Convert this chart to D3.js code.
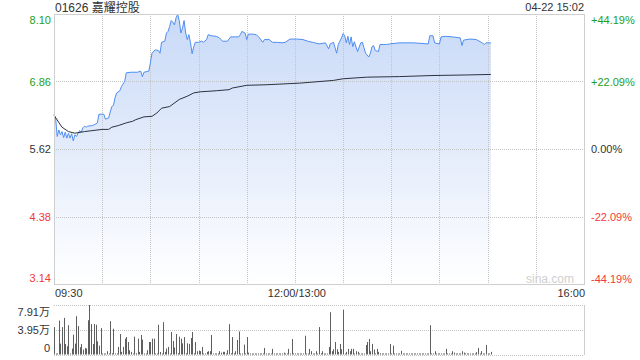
<!DOCTYPE html>
<html>
<head>
<meta charset="utf-8">
<script src="https://cdn.jsdelivr.net/npm/d3@7"></script>
<style>
  body { margin: 0; background: #fff; }
  text { font-family: Arial, "Liberation Sans", "Noto Sans CJK SC", sans-serif; font-size: 11px; }
</style>
</head>
<body>
<div id="viz"></div>
<script>
// chart data
var title = "01626 嘉耀控股",
    stamp = "04-22 15:02";

var prevClose = 5.62;
var priceTicks = [8.10, 6.86, 5.62, 4.38, 3.14];
var pctTicks = ["+44.19%", "+22.09%", "0.00%", "-22.09%", "-44.19%"];
var timeTicks = [[0, "09:30"], [150, "12:00/13:00"], [330, "16:00"]];
var volTicks = [[7.91, "7.91万"], [3.95, "3.95万"], [0, "0"]];

// [trading minute, price]
var pricePts = [
  [0,6.25],[1,6.19],[2,5.85],[3,5.97],[4,5.88],[5,5.94],[6,5.83],[7,5.93],[8,5.82],[9,5.91],
  [10,5.82],[11,5.90],[12,5.77],[13,5.88],[14,5.85],[15,5.91],[16,5.96],[17,5.93],[18,6.01],[19,6.04],
  [20,6.02],[21,6.04],[24,6.05],[26,6.08],[27,6.10],[28,6.26],[31,6.26],[32,6.17],[34,6.19],[36,6.40],
  [37,6.42],[38,6.56],[39,6.65],[41,6.69],[42,6.77],[44,6.86],[45,7.02],[48,7.03],[52,7.03],[54,7.05],
  [55,6.95],[56,7.03],[59,7.05],[60,7.20],[61,7.38],[63,7.44],[65,7.43],[66,7.38],[67,7.58],[69,7.60],
  [70,7.75],[71,7.78],[72,7.87],[73,7.98],[74,7.95],[75,7.90],[76,8.03],[77,8.09],[78,7.98],[79,7.75],
  [80,7.84],[81,7.98],[82,7.75],[83,7.63],[84,7.72],[85,7.57],[86,7.37],[87,7.50],[88,7.58],[90,7.58],
  [92,7.60],[93,7.58],[95,7.63],[96,7.72],[98,7.70],[101,7.69],[103,7.66],[105,7.60],[108,7.60],[110,7.68],
  [113,7.68],[115,7.68],[116,7.72],[117,7.78],[119,7.75],[120,7.63],[121,7.73],[124,7.73],[126,7.72],[128,7.66],
  [130,7.58],[131,7.63],[134,7.63],[136,7.58],[139,7.58],[142,7.57],[144,7.58],[147,7.64],[151,7.64],[155,7.63],
  [158,7.60],[161,7.58],[165,7.55],[169,7.57],[171,7.46],[172,7.55],[174,7.58],[176,7.38],[177,7.54],[179,7.66],
  [180,7.74],[181,7.70],[182,7.57],[183,7.69],[184,7.54],[185,7.68],[186,7.50],[187,7.59],[189,7.41],[191,7.57],
  [192,7.58],[193,7.48],[194,7.38],[196,7.31],[197,7.38],[198,7.50],[199,7.52],[200,7.43],[202,7.41],[203,7.54],
  [207,7.54],[209,7.55],[215,7.57],[224,7.57],[233,7.55],[234,7.70],[236,7.70],[237,7.57],[240,7.55],[241,7.68],
  [244,7.69],[248,7.68],[253,7.66],[254,7.52],[255,7.62],[259,7.64],[263,7.63],[266,7.58],[268,7.54],[269,7.57],
  [272,7.57]
];

// [trading minute, average price]
var avgPts = [
  [0,6.24],[5,6.02],[9,5.94],[13,5.91],[19,5.94],[30,5.98],[34,5.98],[36,6.02],[40,6.05],[45,6.10],
  [49,6.13],[51,6.16],[56,6.21],[61,6.22],[64,6.28],[67,6.37],[72,6.40],[78,6.53],[83,6.59],[87,6.65],
  [91,6.67],[101,6.69],[109,6.71],[111,6.74],[120,6.79],[132,6.80],[153,6.83],[174,6.88],[180,6.91],[195,6.94],
  [215,6.95],[236,6.97],[257,6.98],[272,6.99]
];

// volume per minute, in 万 shares
var volume = [
  4.38,0.15,0.15,5.43,1.74,4.38,5.85,1.69,1.32,4.69,
  0.15,0.95,3.16,1.74,6.12,4.54,1.16,1.69,0.79,1.05,
  0.95,5.48,7.91,4.85,1.69,4.85,4.75,2.11,1.42,4.22,
  0.15,0.12,0.15,0.53,0.12,5.33,0.2,4.11,0.15,0.12,
  1.21,3.27,0.42,1.21,2.53,2.79,2.0,0.69,0.42,0.15,
  2.85,0.2,2.53,0.42,3.11,2.37,0.1,0.15,0.69,2.0,
  2.0,2.53,2.53,0.15,0.15,4.75,0.4,0.15,5.17,0.42,
  0.95,1.21,0.1,3.59,2.16,1.11,3.27,0.2,2.85,2.53,
  1.79,2.79,0.2,1.79,1.69,2.64,3.59,0.2,2.0,0.53,
  0.63,0.53,1.21,0.15,0.1,0.42,0.53,0.53,3.11,0.15,
  0.15,0.15,0.1,0.53,0.3,0.42,0.42,0.1,0.69,4.85,
  0.2,2.79,0.2,0.53,2.32,3.69,0.15,0.1,1.58,0.1,
  2.79,0.3,0.1,0.1,0.15,0.1,0.1,0.12,0.1,0.1,
  0.15,1.05,0.1,0.12,0.1,0.1,0.9,0.1,0.1,0.12,
  0.1,0.1,0.1,0.3,0.15,0.1,0.9,0.1,2.48,0.1,
  0.1,0.12,0.1,0.1,0.1,0.1,3.0,0.1,0.1,0.9,
  0.53,0.1,0.1,0.53,0.15,4.38,0.2,0.53,0.15,0.1,
  0.1,1.21,6.75,0.53,0.84,2.0,0.84,0.42,1.69,0.84,
  7.17,0.1,0.42,0.9,0.53,0.9,0.9,0.15,0.53,0.42,
  0.15,0.1,0.1,0.15,1.53,2.0,2.48,0.53,1.69,0.79,
  0.15,0.9,0.42,0.2,0.1,0.1,0.1,0.1,0.1,1.69,
  0.15,1.42,0.1,0.1,0.1,0.1,0.58,0.1,0.1,0.1,
  0.1,0.1,0.1,0.1,0.1,0.1,0.1,0.1,0.1,0.1,
  0.1,0.1,0.1,0.1,4.69,0.1,0.1,0.53,0.1,0.1,
  0.1,0.1,0.1,0.1,0.9,0.1,0.1,0.1,0.53,0.3,
  0.1,0.1,0.1,0.1,0.53,0.3,0.1,0.1,0.1,0.1,
  0.1,0.1,0.1,0.37,1.05,0.15,0.53,0.1,0.1,1.53,
  0.15,0.1,0.42
];

var width = 640, height = 360,
    pLeft = 54, pRight = 584,
    pTop = 14, pBottom = 284,       // price panel
    vTop = 305, vBottom = 354.5;    // volume panel

var green = "#23a023", red = "#f03a3a", dark = "#333";

var svg = d3.select("div#viz")
            .append("svg")
            .attr("width", width)
            .attr("height", height);

var xScale = d3.scaleLinear().domain([0, 330]).range([pLeft, pRight]),
    yScale = d3.scaleLinear().domain([priceTicks[4], priceTicks[0]]).range([pBottom, pTop]),
    vScale = d3.scaleLinear().domain([0, volTicks[0][0]]).range([vBottom, vTop]);

function tickColor(i) { return i < 2 ? green : (i === 2 ? dark : red); }

// gradient under the price line
var grad = svg.append("defs").append("linearGradient")
              .attr("id", "fillGrad")
              .attr("gradientUnits", "userSpaceOnUse")
              .attr("x1", 0).attr("y1", pTop).attr("x2", 0).attr("y2", pBottom);
grad.append("stop").attr("offset", "0").attr("stop-color", "#c8d9f7");
grad.append("stop").attr("offset", "1").attr("stop-color", "#ffffff");

// title and timestamp
svg.append("text").attr("x", pLeft + 1).attr("y", 11.5)
   .style("font-size", "12px").attr("fill", dark).text(title);
svg.append("text").attr("x", pRight).attr("y", 11).attr("text-anchor", "end")
   .attr("fill", dark).text(stamp);

// price area
svg.append("path")
   .datum(pricePts)
   .attr("fill", "url(#fillGrad)")
   .attr("d", d3.area()
                .x(function(d) { return xScale(d[0]); })
                .y0(pBottom)
                .y1(function(d) { return yScale(d[1]); }));

// grid
var grid = svg.append("g").attr("stroke", "#c4c4c4").attr("stroke-dasharray", "1,1");
grid.selectAll("line.v")
    .data(d3.range(30, 330, 30))
    .enter().append("line")
    .attr("x1", function(d) { return Math.round(xScale(d)) + 0.5; })
    .attr("x2", function(d) { return Math.round(xScale(d)) + 0.5; })
    .attr("y1", pTop).attr("y2", pBottom);
grid.selectAll("line.h")
    .data(priceTicks.slice(1, 4))
    .enter().append("line")
    .attr("x1", pLeft).attr("x2", pRight)
    .attr("y1", function(d) { return Math.round(yScale(d)) + 0.5; })
    .attr("y2", function(d) { return Math.round(yScale(d)) + 0.5; });

// price and average lines
svg.append("path")
   .datum(pricePts)
   .attr("fill", "none")
   .attr("stroke", "#4f8ef2")
   .attr("stroke-width", 1)
   .attr("d", d3.line()
                .x(function(d) { return xScale(d[0]); })
                .y(function(d) { return yScale(d[1]); }));

svg.append("path")
   .datum(avgPts)
   .attr("fill", "none")
   .attr("stroke", "#2b3340")
   .attr("stroke-width", 1)
   .attr("d", d3.line()
                .x(function(d) { return xScale(d[0]); })
                .y(function(d) { return yScale(d[1]); }));

// frame of price panel
svg.append("rect")
   .attr("x", pLeft + 0.5).attr("y", pTop + 0.5)
   .attr("width", pRight - pLeft).attr("height", pBottom - pTop)
   .attr("fill", "none").attr("stroke", "#cfcfcf");

// watermark
svg.append("text").attr("x", pRight - 10).attr("y", pBottom - 1)
   .attr("text-anchor", "end").attr("fill", "#cfcfcf")
   .style("font-size", "12px").text("sina.com");

// left price labels
svg.selectAll("text.price")
   .data(priceTicks)
   .enter().append("text")
   .attr("class", "price")
   .attr("x", pLeft - 3)
   .attr("y", function(d, i) {
       if (i === 0) return yScale(d) + 10;
       if (i === 4) return yScale(d) - 2;
       return yScale(d) + 4;
   })
   .attr("text-anchor", "end")
   .attr("fill", function(d, i) { return tickColor(i); })
   .text(function(d) { return d.toFixed(2); });

// right percent labels
svg.selectAll("text.pct")
   .data(pctTicks)
   .enter().append("text")
   .attr("class", "pct")
   .attr("x", pRight + 7)
   .attr("y", function(d, i) {
       var v = yScale(priceTicks[i]);
       if (i === 0) return v + 10;
       if (i === 4) return v - 1;
       return v + 4;
   })
   .attr("fill", function(d, i) { return tickColor(i); })
   .text(function(d) { return d; });

// time labels
svg.selectAll("text.time")
   .data(timeTicks)
   .enter().append("text")
   .attr("class", "time")
   .attr("x", function(d, i) { return xScale(d[0]) + (i === 1 ? 2 : 1); })
   .attr("y", 297)
   .attr("text-anchor", function(d, i) { return ["start", "middle", "end"][i]; })
   .attr("fill", dark)
   .text(function(d) { return d[1]; });

// volume panel
var vgrid = svg.append("g").attr("stroke", "#c4c4c4").attr("stroke-dasharray", "1,1");
vgrid.selectAll("line")
     .data(volTicks)
     .enter().append("line")
     .attr("x1", pLeft).attr("x2", pRight)
     .attr("y1", function(d) { return Math.round(vScale(d[0])) + 0.5; })
     .attr("y2", function(d) { return Math.round(vScale(d[0])) + 0.5; });
svg.append("line")
   .attr("x1", pRight + 0.5).attr("x2", pRight + 0.5)
   .attr("y1", vTop).attr("y2", vBottom + 0.5)
   .attr("stroke", "#cfcfcf");

svg.append("g")
   .selectAll("rect")
   .data(volume)
   .enter().append("rect")
   .attr("x", function(d, i) { return Math.round(xScale(i)); })
   .attr("width", 1)
   .attr("y", function(d) { return Math.min(vScale(d), vBottom - 1); })
   .attr("height", function(d) { return Math.max(vBottom - vScale(d), 1); })
   .attr("fill", "#5f5f5f");

svg.selectAll("text.vol")
   .data(volTicks)
   .enter().append("text")
   .attr("class", "vol")
   .attr("x", pLeft - 4)
   .attr("y", function(d, i) { return [316, 334, 352][i]; })
   .attr("text-anchor", "end")
   .attr("fill", dark)
   .text(function(d) { return d[1]; });
</script>
</body>
</html>
